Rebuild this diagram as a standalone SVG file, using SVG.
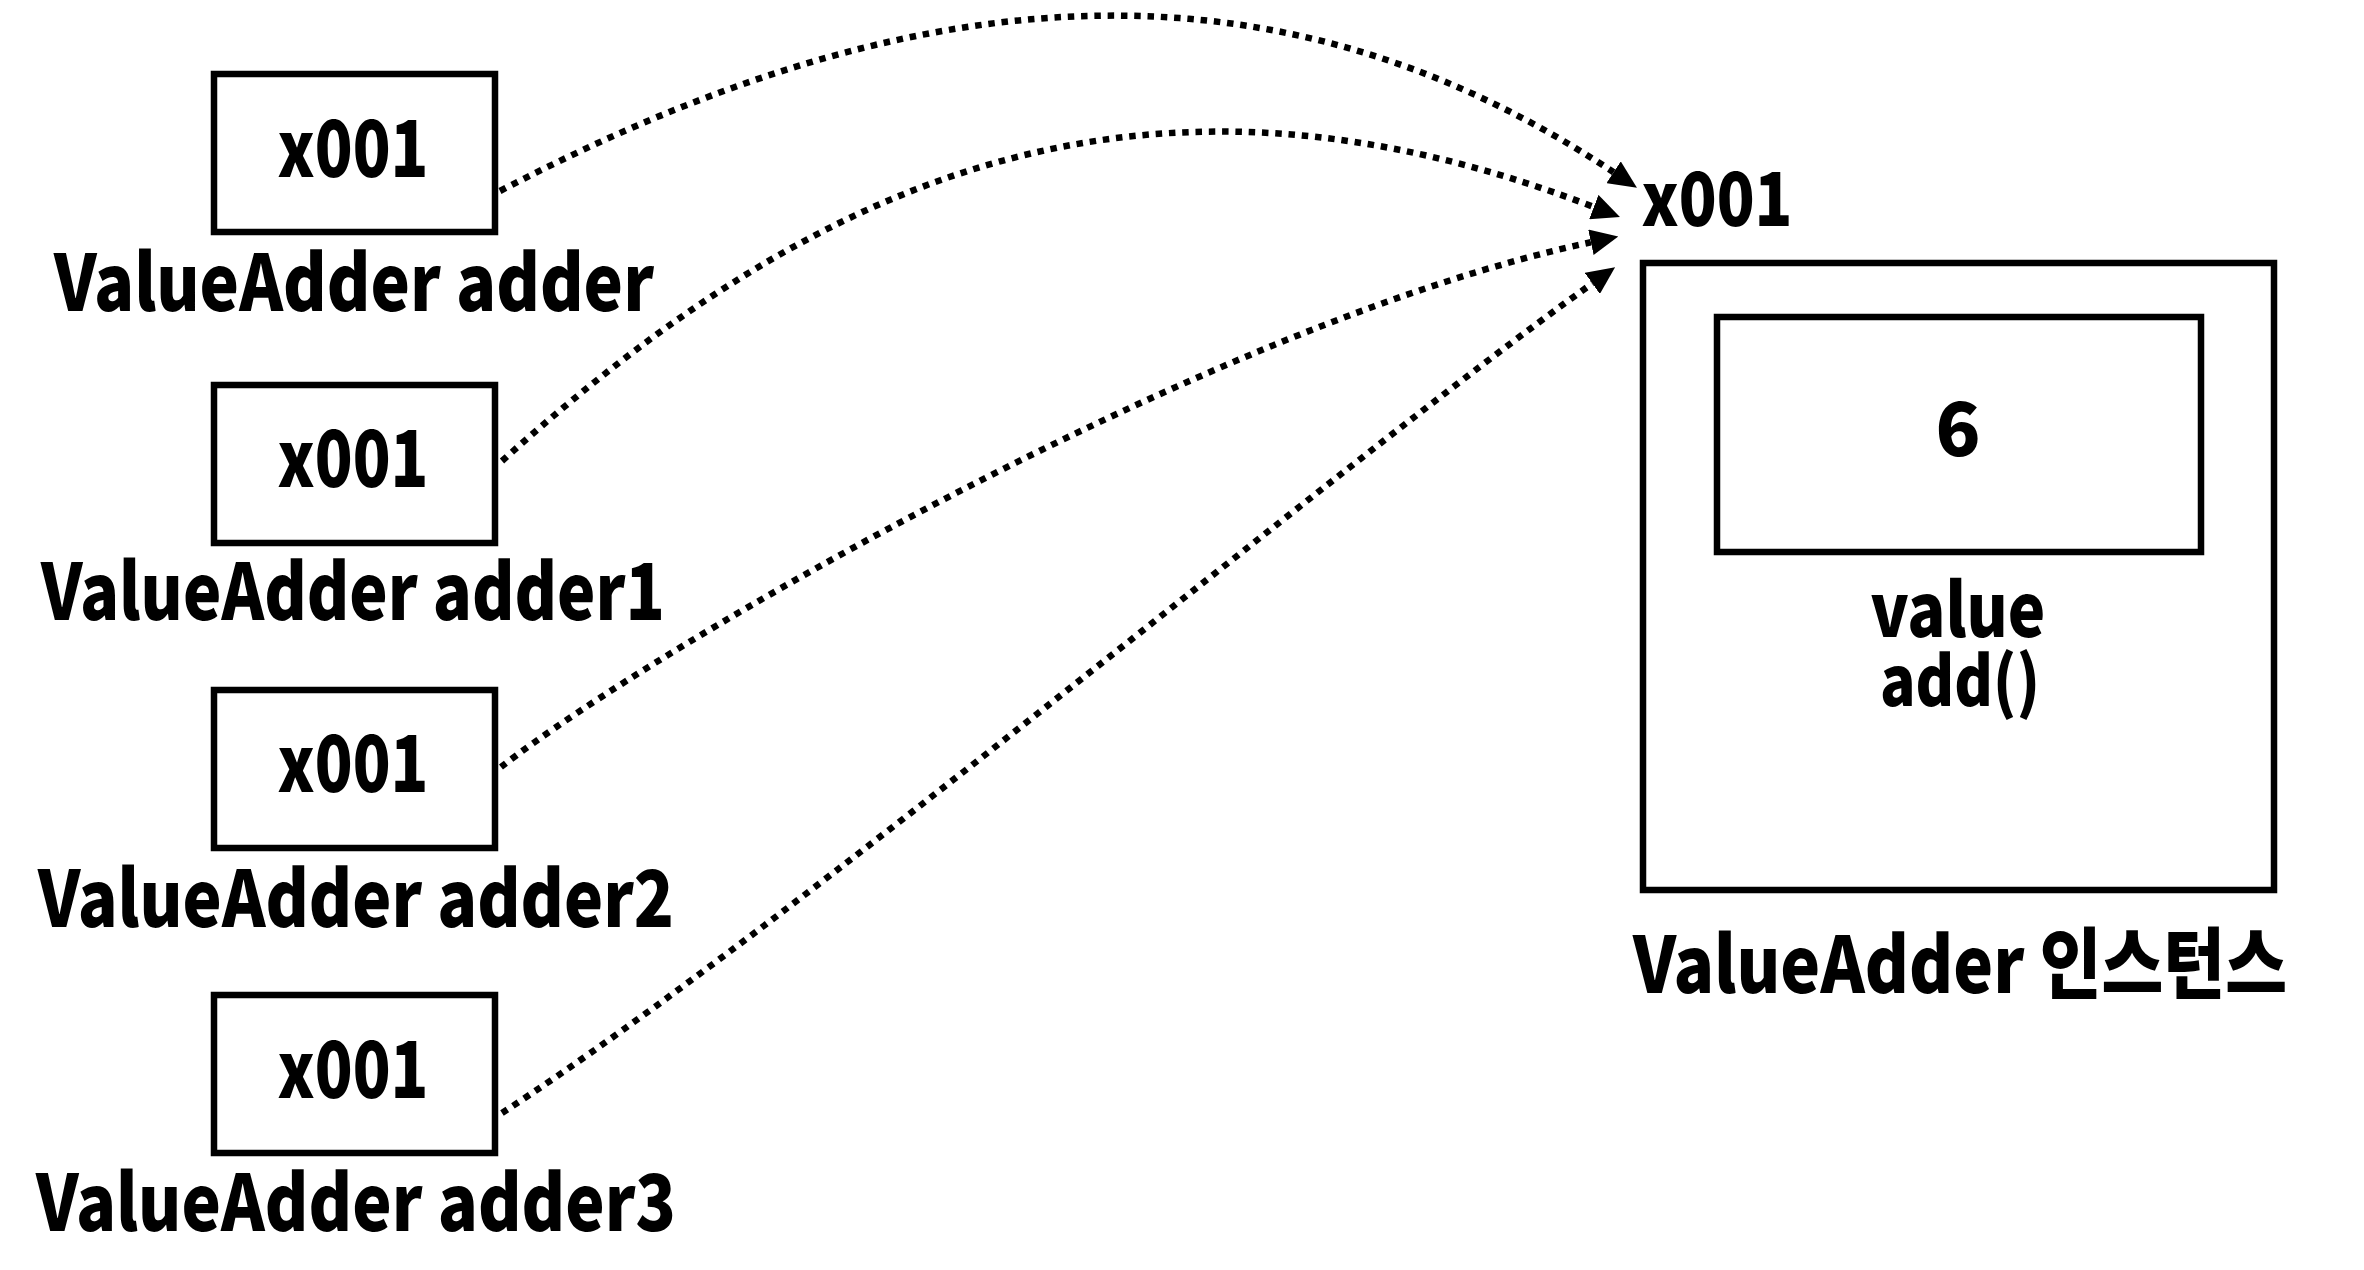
<svg xmlns="http://www.w3.org/2000/svg" width="2364" height="1270" viewBox="0 0 2364 1270">
<style>
.box{fill:#fff;stroke:#000;stroke-width:6.5}
.t{font-family:"Noto Sans CJK KR","Noto Sans",sans-serif;font-weight:900;fill:#000;text-anchor:middle}
.big{font-size:78px}
.mid{font-size:74px}
.sm{font-size:68px}
.conn{fill:none;stroke:#000;stroke-width:6.5;stroke-dasharray:6.5 6.8}
</style>
<defs>
<marker id="ah" markerUnits="userSpaceOnUse" markerWidth="28" markerHeight="26" viewBox="0 0 28 26" refX="0" refY="13" orient="auto">
<path d="M0,0 L28,13 L0,26 z" fill="#000"/>
</marker>
</defs>
<rect width="2364" height="1270" fill="#fff"/>
<g id="ref-adder">
<rect class="box" x="214" y="74" width="281" height="158"/>
<text class="t big" x="353" y="177" textLength="151" lengthAdjust="spacingAndGlyphs">x001</text>
<text class="t big" x="354" y="311" textLength="600" lengthAdjust="spacingAndGlyphs">ValueAdder adder</text>
</g>
<g id="ref-adder1">
<rect class="box" x="214" y="385" width="281" height="158"/>
<text class="t big" x="353" y="487" textLength="151" lengthAdjust="spacingAndGlyphs">x001</text>
<text class="t big" x="353" y="620" textLength="624" lengthAdjust="spacingAndGlyphs">ValueAdder adder1</text>
</g>
<g id="ref-adder2">
<rect class="box" x="214" y="690" width="281" height="158"/>
<text class="t big" x="353" y="792" textLength="151" lengthAdjust="spacingAndGlyphs">x001</text>
<text class="t big" x="356" y="927" textLength="636" lengthAdjust="spacingAndGlyphs">ValueAdder adder2</text>
</g>
<g id="ref-adder3">
<rect class="box" x="214" y="995" width="281" height="158"/>
<text class="t big" x="353" y="1098" textLength="151" lengthAdjust="spacingAndGlyphs">x001</text>
<text class="t big" x="356" y="1231" textLength="640" lengthAdjust="spacingAndGlyphs">ValueAdder adder3</text>
</g>
<g id="instance">
<text class="t mid" x="1717" y="226" textLength="151" lengthAdjust="spacingAndGlyphs">x001</text>
<rect class="box" x="1643" y="263" width="631" height="627"/>
<rect class="box" x="1717" y="317" width="484" height="235"/>
<text class="t mid" x="1958" y="456">6</text>
<text class="t mid" x="1958" y="637" textLength="175" lengthAdjust="spacingAndGlyphs">value</text>
<text class="t sm" x="1960" y="706" textLength="160" lengthAdjust="spacingAndGlyphs">add()</text>
<text class="t big" x="1960" y="993" textLength="654" lengthAdjust="spacingAndGlyphs">ValueAdder 인스턴스</text>
</g>
<g id="connectors">
<path class="conn" marker-end="url(#ah)" d="M500,191 C895,-15 1260,-62 1613.6,172.2"/>
<path class="conn" marker-end="url(#ah)" d="M502,461 C821,173 1146,35 1593.8,207"/>
<path class="conn" marker-end="url(#ah)" d="M501,767 C659,644 1219,321 1590.9,242.3"/>
<path class="conn" marker-end="url(#ah)" d="M502,1113 C796,922 1324,475 1592.3,283.4"/>
</g>
</svg>
